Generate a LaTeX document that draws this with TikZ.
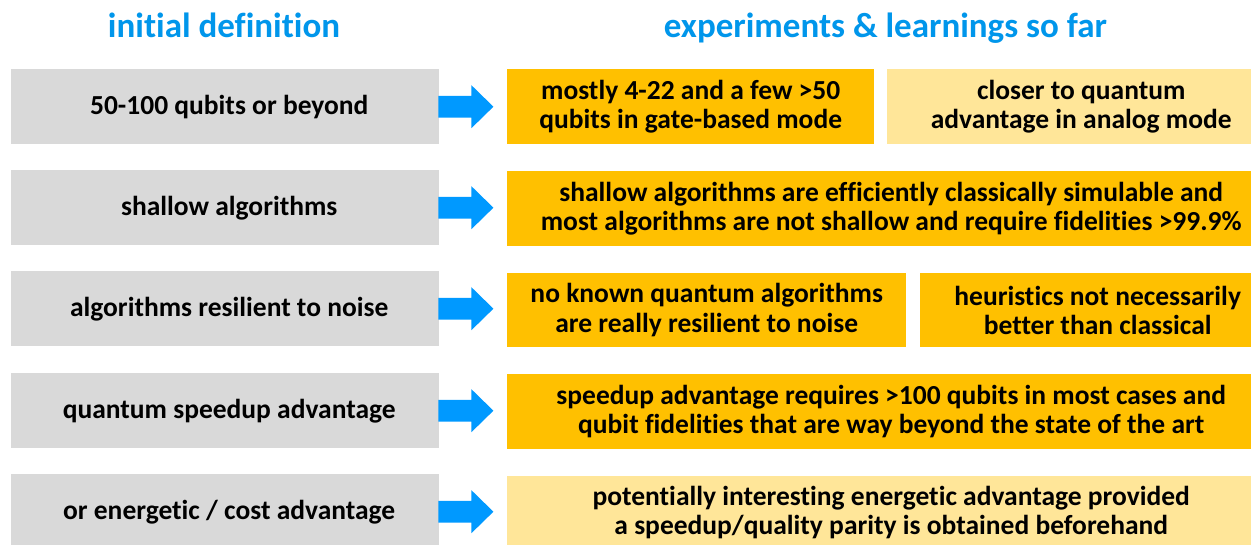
\documentclass[tikz,border=0pt]{standalone}
\usepackage{fontspec}
\setmainfont{Carlito}[Ligatures=NoCommon]
\usetikzlibrary{calc}
\definecolor{grayfill}{HTML}{D9D9D9}
\definecolor{orangefill}{HTML}{FFC000}
\definecolor{lightfill}{HTML}{FFE699}
\definecolor{arrowblue}{HTML}{0099FF}
\definecolor{titleblue}{RGB}{0,150,235}
\tikzset{
  box/.style={rectangle, inner sep=0pt, align=center, anchor=north west,
    font=\bfseries\fontsize{27.5}{29.5}\selectfont},
  graybox/.style={box, fill=grayfill, minimum width=428pt, minimum height=75pt},
  orangebox/.style={box, fill=orangefill},
  lightbox/.style={box, fill=lightfill},
  title/.style={text=titleblue, anchor=base, inner sep=0pt,
    font=\bfseries\fontsize{35}{40}\selectfont},
  blockarrow/.style={fill=arrowblue},
}
\newcommand\blockarr[1]{%
  \fill[blockarrow] ($(#1.east)+(-1,10.8)$) -- ++(33,0) -- ++(0,10.7) -- ++(22,-21.5)
    -- ++(-22,-21.5) -- ++(0,10.7) -- ++(-33,0) -- cycle;}
\begin{document}
\begin{tikzpicture}[x=1pt,y=1pt]
\useasboundingbox (0,0) rectangle (1251,-544);
\fill[white] (0,0) rectangle (1251,-544);
% titles
\node[title] (t1) at (224,-37.5) {initial definition};
\node[title] (t2) at (885.5,-37.5) {experiments \& learnings so far};
% left column
\node[graybox] (g1) at (11,-69) {\hspace*{8pt}50-100 qubits or beyond};
\node[graybox] (g2) at (11,-170) {\hspace*{8pt}shallow algorithms};
\node[graybox] (g3) at (11,-271) {\hspace*{8pt}algorithms resilient to noise};
\node[graybox] (g4) at (11,-373) {\hspace*{8pt}quantum speedup advantage};
\node[graybox] (g5) at (11,-474) {\hspace*{8pt}or energetic / cost advantage};
% right column
\node[orangebox, minimum width=367pt, minimum height=74.5pt] (r1a) at (507,-69)
  {mostly 4-22 and a few >50\\qubits in gate-based mode};
\node[lightbox, minimum width=388pt, minimum height=74.5pt] (r1b) at (887,-69)
  {closer to quantum\\advantage in analog mode};
\node[orangebox, minimum width=768pt, minimum height=74.5pt] (r2) at (507,-171)
  {shallow algorithms are efficiently classically simulable and\\most algorithms are not shallow and require fidelities >99.9\%};
\node[orangebox, minimum width=399pt, minimum height=74pt] (r3a) at (507,-273)
  {no known quantum algorithms\\are really resilient to noise};
\node[orangebox, minimum width=355pt, minimum height=74pt] (r3b) at (920,-273)
  {heuristics not necessarily\\better than classical};
\node[orangebox, minimum width=768pt, minimum height=74.5pt] (r4) at (507,-374)
  {speedup advantage requires >100 qubits in most cases and\\qubit fidelities that are way beyond the state of the art};
\node[lightbox, minimum width=768pt, minimum height=73pt] (r5) at (507,-476)
  {potentially interesting energetic advantage provided\\a speedup/quality parity is obtained beforehand};
% arrows
\blockarr{g1}
\blockarr{g2}
\blockarr{g3}
\blockarr{g4}
\blockarr{g5}
\end{tikzpicture}
\end{document}
